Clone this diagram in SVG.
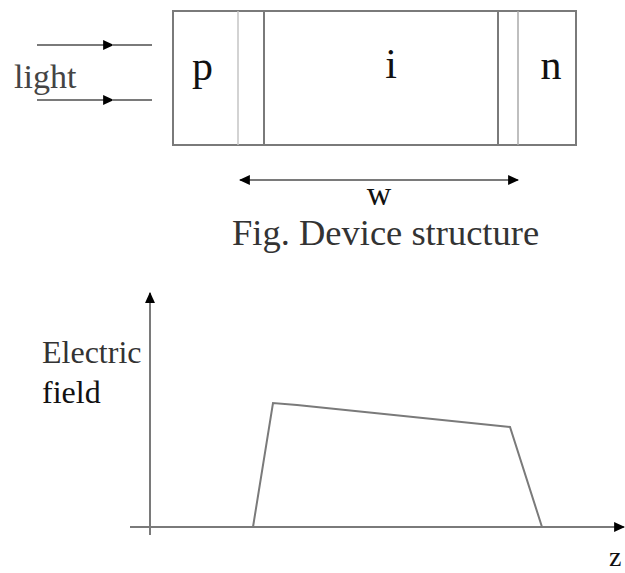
<svg xmlns="http://www.w3.org/2000/svg" width="625" height="573" viewBox="0 0 625 573">
<style>
.ln{stroke:#7a7a7a;stroke-width:2;fill:none}
.lt{stroke:#c4c4c4;stroke-width:1.5;fill:none}
text{fill:#111;font-family:'Liberation Serif','Times New Roman',serif}
</style>
<defs>
<marker id="ah" viewBox="0 0 10 10" refX="9" refY="5" markerWidth="11" markerHeight="11" markerUnits="userSpaceOnUse" orient="auto">
<path d="M0,0.5 L10,5 L0,9.5 Z" fill="#000"/>
</marker>
<marker id="ahs" viewBox="0 0 10 10" refX="1" refY="5" markerWidth="11" markerHeight="11" markerUnits="userSpaceOnUse" orient="auto">
<path d="M10,0.5 L0,5 L10,9.5 Z" fill="#000"/>
</marker>
</defs>
<rect width="625" height="573" fill="#fff"/>
<g id="device">
<rect class="ln" x="173" y="11" width="403" height="134"/>
<line class="lt" x1="238" y1="11" x2="238" y2="145"/>
<line class="ln" x1="264" y1="11" x2="264" y2="145"/>
<line class="ln" x1="498" y1="11" x2="498" y2="145"/>
<line class="lt" x1="518" y1="11" x2="518" y2="145" style="stroke:#aaa"/>
</g>
<g id="p-region"><text x="192" y="80" font-size="42">p</text></g>
<g id="i-region"><text x="391" y="78" font-size="42" text-anchor="middle">i</text></g>
<g id="n-region"><text x="551" y="79" font-size="42" text-anchor="middle">n</text></g>
<g id="light-label"><text x="14" y="88" font-size="34" style="fill:#444">light</text></g>
<g id="w-label"><text x="379" y="205" font-size="34" text-anchor="middle">w</text></g>
<g id="caption"><text x="232" y="245" font-size="36.5" style="fill:#333">Fig. Device structure</text></g>
<g id="ylabel"><text x="42" y="363" font-size="32" style="fill:#333">Electric</text><text x="42" y="403" font-size="32">field</text></g>
<g id="zlabel"><text x="609" y="566" font-size="28">z</text></g>
<g id="connectors">
<path class="ln" d="M37,45 L113,45" marker-end="url(#ah)"/>
<line class="ln" x1="112" y1="45" x2="152" y2="45"/>
<path class="ln" d="M37,100 L113,100" marker-end="url(#ah)"/>
<line class="ln" x1="112" y1="100" x2="152" y2="100"/>
<path class="ln" d="M240,180 L518,180" marker-start="url(#ahs)" marker-end="url(#ah)"/>
<path class="ln" d="M150,535 L150,293" marker-end="url(#ah)"/>
<path class="ln" d="M130,527 L624,527" marker-end="url(#ah)"/>
</g>
<g id="field-curve">
<path class="ln" d="M253,527 L273,403 L297,405 L510,427 L542,527"/>
</g>
</svg>
